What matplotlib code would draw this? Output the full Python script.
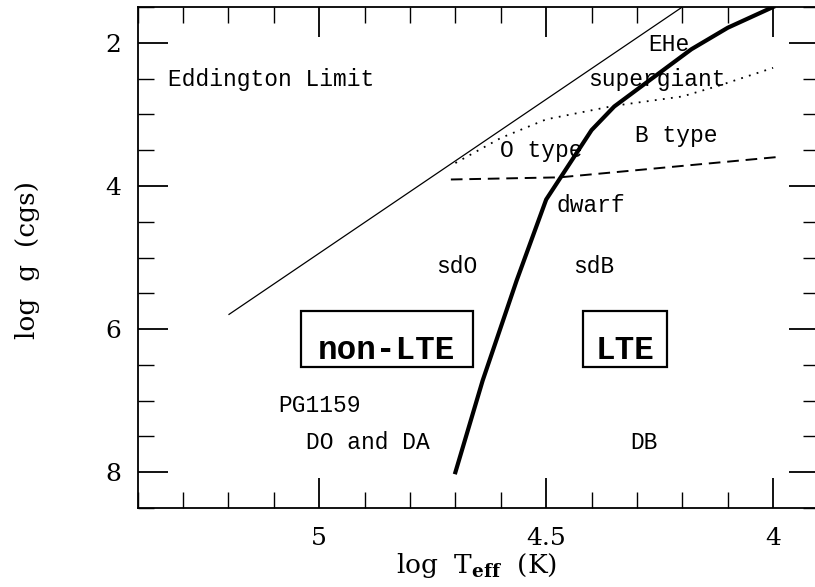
import matplotlib
matplotlib.use("Agg")
import matplotlib.pyplot as plt
from matplotlib.patches import Rectangle
from matplotlib.ticker import MultipleLocator

# Eddington limit
edd_logt = [5.20, 4.20]
edd_logg = [5.80, 1.50]

# LTE / non-LTE boundary
lte_logt = [4.70, 4.64, 4.565, 4.50, 4.40, 4.35, 4.28, 4.18, 4.10, 4.00]
lte_logg = [8.00, 6.72, 5.32, 4.19, 3.22, 2.89, 2.56, 2.09, 1.79, 1.50]

# dwarf / giant boundary (dashed)
dwarf_logt = [4.71, 4.47, 3.98]
dwarf_logg = [3.91, 3.88, 3.59]

# supergiant boundary (dotted)
sg_logt = [4.70, 4.60, 4.50, 4.35, 4.20, 4.12, 4.00]
sg_logg = [3.68, 3.33, 3.07, 2.88, 2.75, 2.60, 2.35]

# region labels
region_names = ["Eddington Limit", "EHe", "supergiant", "O type", "B type",
                "dwarf", "sdO", "sdB", "PG1159", "DO and DA", "DB"]
region_logt = [5.105, 4.229, 4.257, 4.510, 4.213, 4.402, 4.698, 4.396,
               5.000, 4.892, 4.2835]
region_logg = [2.60, 2.117, 2.60, 3.59, 3.39, 4.37, 5.22, 5.22,
               7.16, 7.675, 7.675]

# boxed regime labels
box_names = ["non-LTE", "LTE"]
box_logt = [4.851, 4.327]
box_logg = [6.415, 6.415]
box_left = [5.0396, 4.4198]
box_right = [4.6615, 4.2330]
box_top = [5.749, 5.749]
box_bottom = [6.534, 6.534]

x_ticks = [5.0, 4.5, 4.0]
x_ticklabels = ["5", "4.5", "4"]
y_ticks = [2, 4, 6, 8]
y_ticklabels = ["2", "4", "6", "8"]

plt.rcParams["mathtext.fontset"] = "dejavuserif"
serif = "DejaVu Serif"
mono = "Liberation Mono"

fig = plt.figure(figsize=(8.15, 5.87), dpi=100)
ax = fig.add_axes([137.7 / 815, 79 / 587, 680.8 / 815, 501 / 587])
ax.set_xlim(5.4, 3.9)
ax.set_ylim(8.5, 1.5)

for s in ax.spines.values():
    s.set_linewidth(1.3)
    s.set_color("black")

ax.set_xticks(x_ticks)
ax.set_xticklabels(x_ticklabels, fontfamily=serif, fontsize=18)
ax.set_yticks(y_ticks)
ax.set_yticklabels(y_ticklabels, fontfamily=serif, fontsize=18)
ax.xaxis.set_minor_locator(MultipleLocator(0.1))
ax.yaxis.set_minor_locator(MultipleLocator(0.5))
ax.tick_params(which="both", direction="in", top=True, right=True, color="black")
ax.tick_params(which="major", length=21.5, width=1.3)
ax.tick_params(which="minor", length=11.5, width=1.0)
ax.tick_params(axis="x", which="major", pad=14)
ax.tick_params(axis="y", which="major", pad=12)

ax.plot(edd_logt, edd_logg, color="black", lw=0.9, solid_capstyle="butt")
ax.plot(lte_logt, lte_logg, color="black", lw=3.0, solid_joinstyle="round")
ax.plot(dwarf_logt, dwarf_logg, color="black", lw=1.4, dashes=(6, 3.5))
ax.plot(sg_logt, sg_logg, color="black", lw=1.3, dashes=(1, 3.5))

for name, t, g in zip(region_names, region_logt, region_logg):
    ax.text(t, g, name, fontfamily=mono, fontsize=16.5, ha="center",
            va="baseline", color="black")

for i, name in enumerate(box_names):
    ax.text(box_logt[i], box_logg[i], name, fontfamily=mono, fontweight="bold",
            fontsize=23.5, ha="center", va="baseline", color="black")
    ax.add_patch(Rectangle((box_left[i], box_bottom[i]),
                           box_right[i] - box_left[i],
                           box_top[i] - box_bottom[i],
                           fill=False, lw=1.6, edgecolor="black"))

fig.text(477 / 815, (587 - 573) / 587, r"log  T$_{\mathbf{eff}}$  (K)",
         fontfamily=serif, fontsize=19, ha="center", va="baseline")
fig.text(27 / 815, (587 - 260) / 587, "log  g  (cgs)", fontfamily=serif,
         fontsize=19, rotation=90, ha="center", va="center")

fig.savefig("out.png", dpi=100)
